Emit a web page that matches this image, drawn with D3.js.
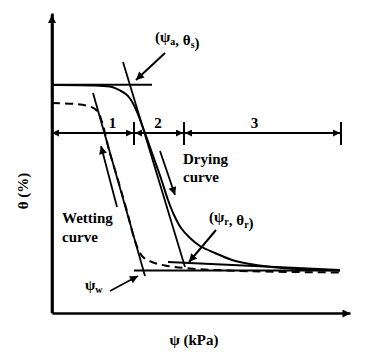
<!DOCTYPE html>
<html><head><meta charset="utf-8">
<script src="https://cdn.jsdelivr.net/npm/d3@7"></script>
<style>body{margin:0;background:#fff}svg{display:block}text{font-family:"Liberation Serif","DejaVu Serif",serif;}</style>
</head><body>
<svg id="c" width="366" height="357"></svg>
<script>
// ---- diagram data (abstract units: x = suction, y = water content) ----
const dryingCurve = [[0,228],[43,227.5],[60,226],[69,222],[75,218],[79,213],[85.5,200],[90,188],[95.5,173],[102.5,153],[109.5,133],[116,113],[122,98],[129,85],[138,75],[148,67],[163,60],[180,53],[198,49],[231,45],[288,42.5]];
const wettingCurve = [[0,210],[23,209],[36,207],[43,204],[47,199],[50,191],[53,180],[57,163],[63,143],[69.5,121],[76,98],[82,75],[86.5,63],[91,56],[100,51],[113,47.5],[138,44.5],[188,42],[288,40.5]];
const satLine = [[0,228.3],[100,228.3]];
const dryTangent = [[71,251],[133,46]];
const wetTangent = [[41,220],[93,37]];
const resLine = [[116,51],[288,43]];
const baseLine = [[82,42.5],[288,42.5]];
const regionBounds = [0,81,131,288];
const regionLabels = ["1","2","3"];
const regionY = 180;
const dryArrow = [[108,162],[123,118]];
const wetArrow = [[65,106],[49,167]];

const X = d3.scaleLinear().domain([0,298]).range([52,350]);
const Y = d3.scaleLinear().domain([0,300]).range([313,13]);

const svg = d3.select("#c");
const defs = svg.append("defs");
function marker(id,w,h){
  defs.append("marker").attr("id",id).attr("viewBox","0 0 10 10")
    .attr("refX",10).attr("refY",5).attr("markerWidth",w).attr("markerHeight",h)
    .attr("markerUnits","userSpaceOnUse").attr("orient","auto-start-reverse")
    .append("path").attr("d","M0,0L10,5L0,10z").attr("fill","#000");
}
marker("ax",10,8); marker("rg",9,7); marker("an",11,8);

const line = d3.line().x(d=>X(d[0])).y(d=>Y(d[1]));
const smooth = d3.line().x(d=>X(d[0])).y(d=>Y(d[1])).curve(d3.curveCatmullRom.alpha(0.5));

// axes (no ticks)
svg.append("g").attr("transform",`translate(0,${Y(0)})`)
  .call(d3.axisBottom(X).tickValues([]).tickSizeOuter(0))
  .select(".domain").attr("stroke-width",2.6).attr("marker-end","url(#ax)");
svg.append("g").attr("transform",`translate(${X(0)},0)`)
  .call(d3.axisLeft(Y).tickValues([]).tickSizeOuter(0))
  .select(".domain").attr("stroke-width",2.6);
svg.append("path").attr("d",line([[0,0],[0,298]])).attr("stroke","#000").attr("stroke-width",2.6).attr("marker-end","url(#ax)");

const g = svg.append("g").attr("fill","none").attr("stroke","#000");
g.append("path").attr("d",line(satLine)).attr("stroke-width",2);
g.append("path").attr("d",smooth(dryingCurve)).attr("stroke-width",2);
g.append("path").attr("d",smooth(wettingCurve)).attr("stroke-width",2).attr("stroke-dasharray","8,5");
g.append("path").attr("d",line(dryTangent)).attr("stroke-width",1.8);
g.append("path").attr("d",line(wetTangent)).attr("stroke-width",1.8);
g.append("path").attr("d",line(resLine)).attr("stroke-width",1.8);
g.append("path").attr("d",line(baseLine)).attr("stroke-width",2);

// process arrows
g.append("path").attr("d",line(dryArrow)).attr("stroke-width",1.8).attr("marker-end","url(#an)");
g.append("path").attr("d",line(wetArrow)).attr("stroke-width",1.8).attr("marker-end","url(#an)");

// region arrows
regionLabels.forEach((lab,i)=>{
  const a = regionBounds[i]+(i>0?2:0), b = regionBounds[i+1];
  g.append("path").attr("d",line([[a,regionY],[b,regionY]])).attr("stroke-width",2)
    .attr("marker-start","url(#rg)").attr("marker-end","url(#rg)");
});
regionBounds.slice(1).forEach(v=>{
  g.append("path").attr("d",line([[v+1,191],[v+1,168]])).attr("stroke-width",2);
});

const T = svg.append("g").attr("font-weight","bold").attr("font-size",15).attr("fill","#000");
const labelX = [(regionBounds[0]+regionBounds[1])/2+20,(regionBounds[1]+regionBounds[2])/2,(regionBounds[2]+regionBounds[3])/2-7];
regionLabels.forEach((lab,i)=>{
  T.append("text").attr("x",X(labelX[i])).attr("y",Y(185)).attr("text-anchor","middle").text(lab);
});

function sub(sel, parts){
  parts.forEach(p=>{
    if(p.s){ sel.append("tspan").attr("font-size",10).attr("dy",3).text(p.s);
             sel.append("tspan").attr("dy",-3).text(""); }
    else sel.append("tspan").text(p.t);
  });
}
let t1 = T.append("text").attr("x",X(103)).attr("y",Y(271));
sub(t1,[{t:"(ψ"},{s:"a"},{t:", θ"},{s:"s"},{t:")"}]);
let t2 = T.append("text").attr("x",X(157)).attr("y",Y(91));
sub(t2,[{t:"(ψ"},{s:"r"},{t:", θ"},{s:"r"},{t:")"}]);
let t3 = T.append("text").attr("x",X(33)).attr("y",Y(23));
sub(t3,[{t:"ψ"},{s:"w"}]);

T.append("text").attr("x",X(131)).attr("y",Y(149)).text("Drying");
T.append("text").attr("x",X(131)).attr("y",Y(131)).text("curve");
T.append("text").attr("x",X(10)).attr("y",Y(90)).text("Wetting");
T.append("text").attr("x",X(10)).attr("y",Y(71)).text("curve");

T.append("text").attr("transform",`translate(28,191) rotate(-90)`).attr("text-anchor","middle").text("θ (%)");
T.append("text").attr("x",194).attr("y",345).attr("text-anchor","middle").text("ψ (kPa)");

// annotation pointers
g.append("path").attr("d",line([[113,260],[84,233]])).attr("stroke-width",2).attr("marker-end","url(#an)");
g.append("path").attr("d",line([[164,83],[137,51]])).attr("stroke-width",2).attr("marker-end","url(#an)");
g.append("path").attr("d",line([[58,22],[86,37]])).attr("stroke-width",1.5).attr("marker-end","url(#an)");
</script>
</body></html>
